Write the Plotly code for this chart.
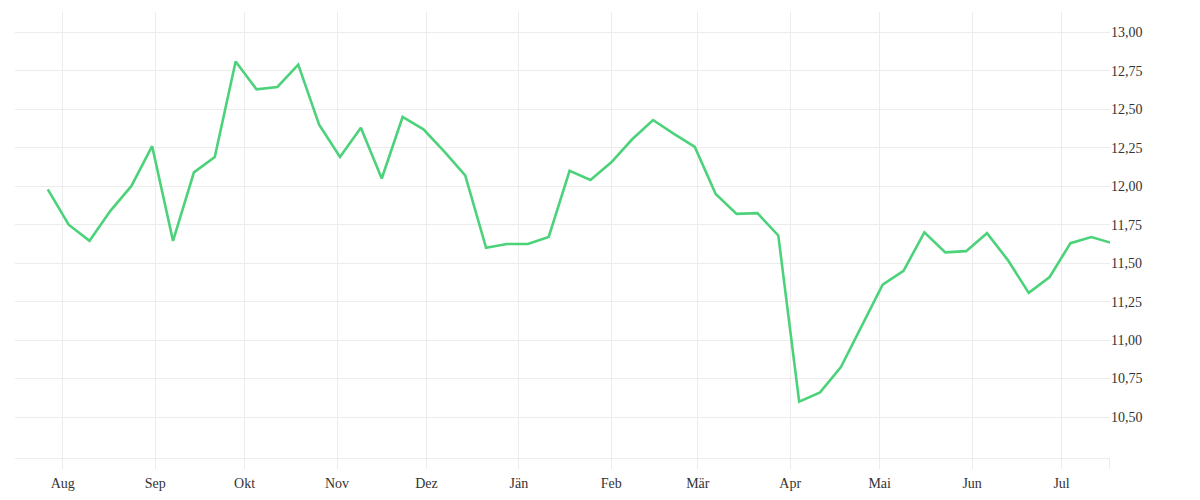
import plotly.graph_objects as go
import pandas as pd

start_date = "2023-07-27"
values = [11.98, 11.75, 11.645, 11.84, 12.00, 12.26, 11.645, 12.09, 12.19, 12.81,
          12.63, 12.645, 12.79, 12.40, 12.19, 12.38, 12.05, 12.45, 12.37, 12.225,
          12.07, 11.60, 11.625, 11.625, 11.67, 12.10, 12.04, 12.155, 12.305, 12.43,
          12.34, 12.255, 11.95, 11.82, 11.825, 11.68, 10.60, 10.66, 10.825, 11.09,
          11.36, 11.45, 11.70, 11.57, 11.578, 11.695, 11.52, 11.307, 11.41, 11.63,
          11.67, 11.63]
dates = pd.date_range(start_date, periods=len(values), freq="7D")

month_ticks = ["2023-08-01", "2023-09-01", "2023-10-01", "2023-11-01", "2023-12-01",
               "2024-01-01", "2024-02-01", "2024-03-01", "2024-04-01", "2024-05-01",
               "2024-06-01", "2024-07-01", "2024-07-17"]
month_labels = ["Aug", "Sep", "Okt", "Nov", "Dez", "Jän", "Feb", "Mär", "Apr", "Mai",
                "Jun", "Jul", ""]
y_ticks = [10.5, 10.75, 11.0, 11.25, 11.5, 11.75, 12.0, 12.25, 12.5, 12.75, 13.0]

grid = "#ececec"
font = dict(family="Liberation Serif", size=14, color="#333333")

fig = go.Figure()
fig.add_trace(go.Scatter(x=dates, y=values, mode="lines",
                         line=dict(color="#4cd27a", width=2.6),
                         hoverinfo="x+y", showlegend=False))

fig.update_layout(
    width=1184, height=492,
    margin=dict(l=7, r=82, t=4, b=42),
    plot_bgcolor="white", paper_bgcolor="white",
    separators=",.",
    font=font,
    xaxis=dict(range=["2023-07-16", "2024-07-17 06:00"],
               tickmode="array", tickvals=month_ticks, ticktext=month_labels,
               showgrid=True, gridcolor=grid, gridwidth=1,
               ticks="outside", ticklen=10, tickcolor=grid,
               showline=True, linecolor=grid, linewidth=1,
               zeroline=False, tickfont=font, ticklabelstandoff=2,
               automargin=False),
    yaxis=dict(side="right", range=[10.234, 13.132],
               tickmode="array", tickvals=y_ticks, tickformat=".2f",
               tickprefix="\u2002\u2009",
               showgrid=True, gridcolor=grid, gridwidth=1,
               ticks="",
               zeroline=False, showline=False, automargin=False,
               tickfont=font),
)

fig.write_html("out.html")
